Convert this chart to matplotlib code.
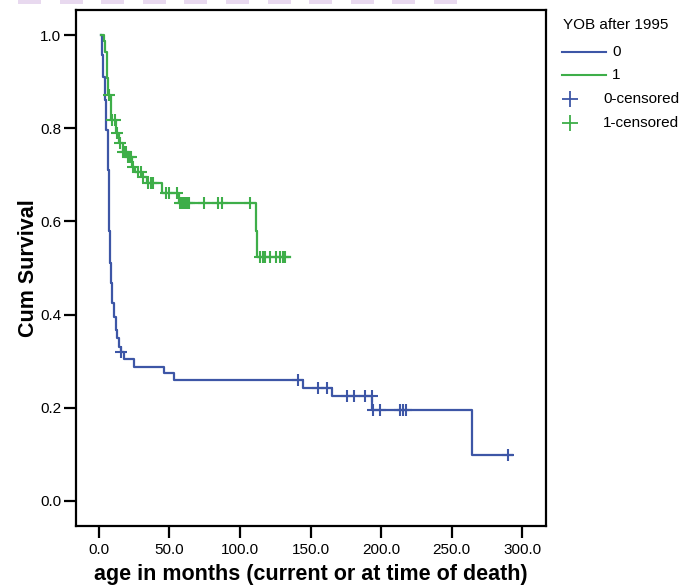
"""Kaplan-Meier curves by YOB after 1995 (SPSS-style redraw)."""

import matplotlib.pyplot as plt
import numpy as np
from matplotlib.lines import Line2D
from matplotlib.patches import Rectangle

# group 0: step times (months) and survival after each step, last entry = end of follow-up
t0 = [1.5, 1.9, 3.0, 4.0, 5.0, 6.1, 6.8, 7.8, 8.5, 9.5, 10.4, 11.8, 12.8, 14.2, 15.4, 17.7,
      25.0, 46.3, 53.2, 145.0, 165.0, 193.8, 264.8, 293.0]
s0 = [1.0, 0.957, 0.91, 0.86, 0.796, 0.71, 0.58, 0.51, 0.468, 0.425, 0.395, 0.367, 0.35, 0.33,
      0.32, 0.304, 0.288, 0.274, 0.259, 0.243, 0.225, 0.196, 0.099, 0.099]
cens0 = [15.6, 141.4, 155.0, 162.0, 175.6, 181.0, 188.7, 193.4, 194.6, 199.3, 213.5, 215.4,
         217.5, 289.8]

# group 1
t1 = [1.5, 3.3, 4.2, 5.4, 6.1, 8.2, 11.8, 14.3, 16.8, 19.6, 23.2, 25.5, 30.3, 33.8, 44.5,
      56.9, 111.1, 112.3, 135.5]
s1 = [1.0, 0.988, 0.964, 0.908, 0.871, 0.818, 0.79, 0.768, 0.75, 0.739, 0.717, 0.707, 0.696,
      0.682, 0.662, 0.639, 0.58, 0.523, 0.523]
cens1 = [7.3, 8.9, 11.3, 12.5, 14.9, 17.2, 18.2, 19.1, 20.8, 21.8, 22.6, 24.3, 27.9, 29.5,
         31.4, 35.0, 36.8, 38.5, 47.5, 49.9, 55.5, 57.4, 58.5, 59.4, 60.3, 61.0, 62.2, 64.0,
         74.7, 84.2, 87.4, 107.0, 114.0, 116.0, 118.0, 121.3, 125.3, 128.4, 130.3, 131.9]

groups = ['0', '1']
legend_title = 'YOB after 1995'
xticks = [0, 50, 100, 150, 200, 250, 300]
yticks = [0.0, 0.2, 0.4, 0.6, 0.8, 1.0]

BLUE = '#3d56a6'
GREEN = '#3eae49'

plt.rcParams['font.family'] = ['Liberation Sans', 'DejaVu Sans']


def surv_at(times, surv, when):
    """Survival level of a step curve at the given times."""
    idx = np.searchsorted(times, when, side='right') - 1
    return np.asarray(surv)[idx]


fig = plt.figure(figsize=(6.95, 5.88), dpi=100)
W, H = 695, 588
ax = fig.add_axes([76 / W, 62 / H, 470 / W, 516 / H])

for t, s, cens, color in [(t0, s0, cens0, BLUE), (t1, s1, cens1, GREEN)]:
    ax.plot(t, s, drawstyle='steps-post', color=color, lw=1.6)
    ax.plot(cens, surv_at(t, s, cens), ls='none', marker='+', ms=8, mew=1.5, color=color)

ax.set_xlim(-16.3, 317)
ax.set_ylim(-0.054, 1.054)
ax.set_xticks(xticks)
ax.set_xticklabels([f'{v:.1f}' for v in xticks])
ax.set_yticks(yticks)
ax.set_yticklabels([f'{v:.1f}' for v in yticks])
ax.tick_params(length=8.5, width=1.6, labelsize=11, direction='out')
ax.tick_params(axis='x', pad=4)
ax.tick_params(axis='y', pad=2)
for sp in ax.spines.values():
    sp.set_linewidth(1.6)
ax.set_xlabel('age in months (current or at time of death)', fontsize=15.5, fontweight='bold',
              labelpad=5)
ax.set_ylabel('Cum Survival', fontsize=15.5, fontweight='bold', labelpad=1)

# legend drawn by hand, SPSS style (pixel positions from the top)


def fx(x):
    return x / W


def fy(y):
    return 1 - y / H


fig.text(fx(563), fy(25), legend_title, fontsize=11, va='center', ha='left')
for i, (g, color) in enumerate(zip(groups, [BLUE, GREEN])):
    y = 51.5 + 23.5 * i
    fig.add_artist(Line2D([fx(562), fx(606)], [fy(y), fy(y)], color=color, lw=1.5))
    fig.text(fx(612), fy(y), g, fontsize=11, va='center', ha='left')
for i, (g, color) in enumerate(zip(groups, [BLUE, GREEN])):
    y = 99 + 24 * i
    fig.add_artist(Line2D([fx(569.5)], [fy(y)], marker='+', ms=11, mew=1.3, color=color))
    fig.text(fx(603), fy(y), f'{g}-censored', fontsize=11, va='center', ha='left')

# faint strip remnants along the top edge
for k in range(11):
    fig.add_artist(Rectangle((fx(18 + 41.6 * k), fy(4)), 23 / W, 4 / H,
                             color='#e8d9ef', lw=0, transform=fig.transFigure))

fig.savefig('out.png', dpi=100)
